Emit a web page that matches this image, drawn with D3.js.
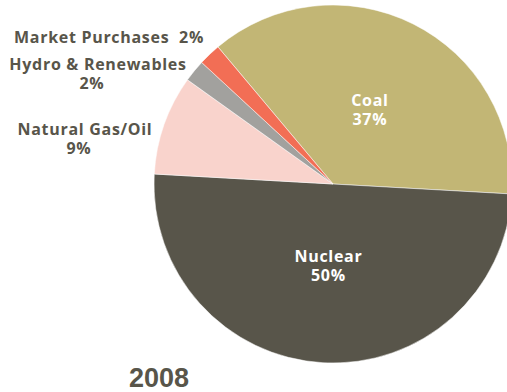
<!DOCTYPE html>
<meta charset="utf-8">
<style>
  body { margin: 0; background: #fff; }
  svg text { font-family: "Open Sans", "DejaVu Sans", sans-serif; font-weight: bold; letter-spacing: 0.7px; }
  svg text.year { font-family: "Liberation Sans", Arial, sans-serif; letter-spacing: 0; }
</style>
<script src="https://d3js.org/d3.v7.min.js"></script>
<svg id="chart" width="507" height="392"></svg>
<script>

// Data
var sources = ["Coal", "Nuclear", "Natural Gas/Oil", "Hydro & Renewables", "Market Purchases"];
var shares = [37, 50, 9, 2, 2];
var colors = ["#c2b675", "#58554a", "#f9d3cc", "#a2a19e", "#f26e55"];
var year = "2008";

var svg = d3.select("#chart"),
  width = +svg.attr("width"),
  height = +svg.attr("height");

var cx = 333, cy = 184, radius = 179;
var textDark = "#58554a";

var data = sources.map(function(s, i) { return { name: s, value: shares[i], color: colors[i] }; });

var pie = d3.pie()
  .sort(null)
  .value(function(d) { return d.value; })
  .startAngle(-40 * Math.PI / 180)
  .endAngle(320 * Math.PI / 180);

var arc = d3.arc().innerRadius(0).outerRadius(radius);
var labelArc = d3.arc().innerRadius(radius * 0.46).outerRadius(radius * 0.46);

var g = svg.append("g").attr("transform", "translate(" + cx + "," + cy + ")");
var arcs = pie(data);

g.selectAll("path")
  .data(arcs)
  .enter().append("path")
    .attr("d", arc)
    .attr("fill", function(d) { return d.data.color; })
    .attr("stroke", "#fff")
    .attr("stroke-width", 0.5);

// labels inside the two big slices
arcs.filter(function(d) { return d.data.value > 20; }).forEach(function(d) {
  var c = labelArc.centroid(d);
  var t = g.append("text")
    .attr("text-anchor", "middle")
    .attr("fill", "#fff")
    .style("font-size", "16px");
  t.append("tspan").attr("x", c[0]).attr("y", c[1] - 4).text(d.data.name);
  t.append("tspan").attr("x", c[0]).attr("y", c[1] + 15).text(d.data.value + "%");
});

// labels outside for the small slices
var outside = {
  "Natural Gas/Oil": { x: 85, y: 135, split: true },
  "Hydro & Renewables": { x: 98, y: 70, split: true },
  "Market Purchases": { x: 204, y: 43, split: false }
};
arcs.filter(function(d) { return d.data.value < 20; }).forEach(function(d) {
  var p = outside[d.data.name];
  var t = svg.append("text")
    .attr("fill", textDark)
    .style("font-size", "16px");
  if (p.split) {
    t.attr("text-anchor", "middle");
    t.append("tspan").attr("x", p.x).attr("y", p.y).text(d.data.name);
    t.append("tspan").attr("x", p.x - 6).attr("y", p.y + 19).text(d.data.value + "%");
  } else {
    t.attr("text-anchor", "end").attr("x", p.x).attr("y", p.y)
      .text(d.data.name + "\u00a0 " + d.data.value + "%");
  }
});

svg.append("text")
  .attr("class", "year")
  .attr("x", 159)
  .attr("y", 387)
  .attr("text-anchor", "middle")
  .attr("fill", textDark)
  .style("font-size", "27px")
  .text(year);

</script>
